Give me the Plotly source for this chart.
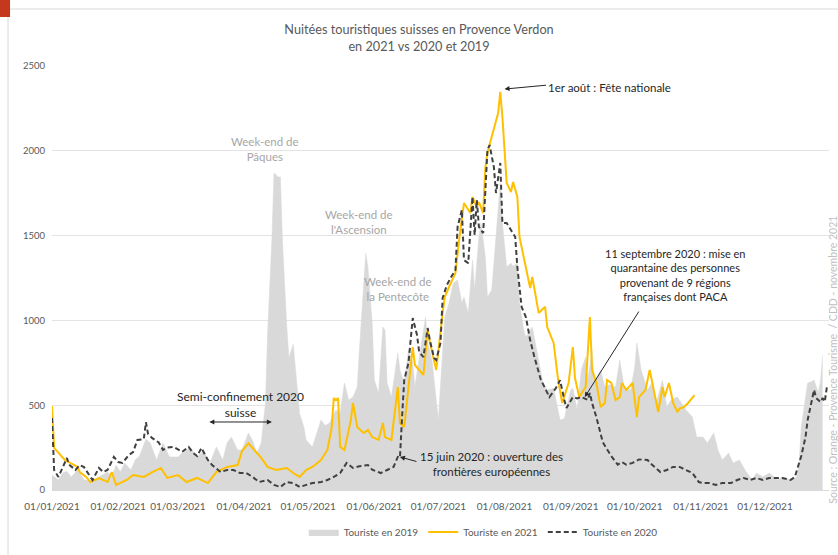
import pandas as pd
import plotly.graph_objects as go

BASE = pd.Timestamp("2021-01-01")

# ---- data (day offset from 01/01/2021, value) ----
days_2019 = [0,3,5,7,9,12,15,17,19,22,26,28,30,32,34,37,39,41,44,46,49,52,55,59,61,65,68,71,74,77,
             80,82,84,87,89,92,94,96,98,100,101,103,104,106,107,108,110,111,113,115,116,118,119,122,124,126,128,130,133,135,
             137,139,141,143,144,146,147,148,150,151,153,155,156,157,159,162,163,165,167,169,170,172,175,176,178,181,183,184,186,188,
             190,192,193,195,197,198,200,201,203,204,206,207,209,210,211,213,215,216,218,219,221,222,225,227,230,232,235,238,240,243,
             244,246,248,250,251,253,254,257,259,261,264,266,268,271,273,274,276,279,281,283,286,288,290,293,295,297,300,302,305,307,
             310,312,314,317,319,322,325,328,330,333,336,340,342,346,349,350,351,353,354,356,357,359,360,361]
vals_2019 = [88,59,100,110,77,118,59,59,50,77,106,77,147,106,159,118,177,200,300,277,177,277,195,195,218,248,195,230,159,254,
             177,277,312,236,236,336,290,218,277,513,926,1474,1869,1846,1846,1456,960,780,860,600,450,371,295,254,336,413,380,395,472,454,
             631,531,548,607,825,1220,1397,1315,984,648,572,961,943,631,548,808,708,631,825,749,607,778,1020,867,766,413,867,1020,1103,1220,
             1238,1103,1138,1044,1356,1179,1492,1574,1374,1138,1179,1338,1651,1810,1574,1315,1338,1320,1338,1103,943,902,961,825,631,590,600,413,420,590,
             600,472,708,784,648,825,631,708,607,620,607,766,607,590,725,867,708,590,631,513,648,489,531,548,513,472,430,312,312,277,
             336,236,177,218,159,177,110,59,100,77,100,59,77,59,77,159,371,548,631,640,648,572,640,796]

days_2021 = [0,1,6,12,13,16,18,22,26,28,30,35,38,43,47,51,54,59,63,68,73,77,82,87,89,92,96,98,101,105,
             110,113,116,119,122,126,129,131,132,133,134,135,137,140,141,143,146,148,150,153,155,156,159,162,163,165,169,170,174,176,
             177,180,183,184,186,189,191,193,196,197,199,200,202,203,204,207,209,210,211,213,215,216,218,219,222,224,225,228,231,232,
             235,237,239,242,244,245,247,250,251,252,253,255,257,259,260,262,264,266,267,269,272,274,275,278,280,282,284,286,287,289,
             291,293,294,296,298,301]
vals_2021 = [495,248,177,136,106,77,47,70,47,106,30,59,88,77,106,130,71,88,47,71,41,106,136,147,230,275,218,189,136,118,
             130,100,77,118,136,177,236,365,542,530,542,254,236,413,513,371,336,354,312,295,395,312,295,607,395,371,843,737,678,943,
             873,708,1044,1138,1197,1279,1503,1692,1633,1728,1668,1698,1633,1900,1990,2140,2223,2347,2200,1810,1757,1816,1728,1492,1315,1191,1256,1044,1080,961,
             867,660,513,631,843,660,548,607,814,1020,708,631,489,513,648,631,530,548,631,590,631,430,548,590,708,572,460,607,548,631,
             513,460,480,489,513,560]

days_2020 = [0,1,3,5,7,8,11,13,15,18,19,22,24,26,29,31,33,36,38,40,43,44,45,47,50,52,54,57,59,61,
             64,66,68,70,73,75,79,82,85,88,91,94,97,101,104,107,110,113,116,119,122,126,129,132,135,138,141,144,148,150,
             154,157,160,162,163,164,165,167,169,171,172,174,176,177,179,180,182,183,185,187,189,190,192,193,195,197,198,199,200,202,
             204,205,207,208,210,211,213,215,217,218,220,222,224,226,229,231,233,236,238,240,241,244,246,248,251,252,253,255,257,258,
             260,262,265,267,269,272,275,279,281,285,288,291,294,297,300,303,305,308,311,314,318,321,324,327,330,333,336,340,342,346,
             348,349,351,353,354,356,357,358,360,361,362,363]
vals_2020 = [424,118,77,130,189,150,118,147,135,77,59,130,106,118,195,165,160,206,224,295,300,400,330,306,280,236,250,254,240,225,
             254,220,200,248,177,147,106,118,118,100,100,77,47,59,30,18,47,41,18,30,41,47,59,77,100,159,130,140,147,120,
             100,118,136,195,190,430,648,749,1014,914,814,784,955,884,778,766,867,1132,1209,1256,1297,1551,1651,1356,1338,1728,1503,1710,1551,1515,
             2005,2034,1904,1751,1928,1574,1574,1533,1492,1315,1079,1020,884,784,650,600,548,600,648,531,483,548,540,548,531,572,513,430,336,283,
             240,200,150,165,150,160,180,177,150,106,118,136,136,118,100,47,41,41,30,41,41,59,71,59,71,59,71,71,71,59,
             77,118,200,312,413,531,590,542,519,542,520,607]

series_names = ["Touriste en 2019", "Touriste en 2021", "Touriste en 2020"]
month_ticks = ["2021-01-01","2021-02-01","2021-03-01","2021-04-01","2021-05-01","2021-06-01",
               "2021-07-01","2021-08-01","2021-09-01","2021-10-01","2021-11-01","2021-12-01"]
month_labels = ["01/01/2021","01/02/2021","01/03/2021","01/04/2021","01/05/2021","01/06/2021",
                "01/07/2021","01/08/2021","01/09/2021","01/10/2021","01/11/2021","01/12/2021"]
y_ticks = [0, 500, 1000, 1500, 2000, 2500]


def to_dates(days):
    return [BASE + pd.Timedelta(days=int(d)) for d in days]


FONT = "Lato, 'Open Sans', sans-serif"
GREY_TXT = "#595959"
DARK = "#262626"

fig = go.Figure()
fig.add_trace(go.Scatter(x=to_dates(days_2019), y=vals_2019, name=series_names[0],
                         mode="lines", fill="tozeroy", fillcolor="#D9D9D9",
                         line=dict(color="#D9D9D9", width=0.5)))
fig.add_trace(go.Scatter(x=to_dates(days_2021), y=vals_2021, name=series_names[1],
                         mode="lines", line=dict(color="#FFC000", width=2)))
fig.add_trace(go.Scatter(x=to_dates(days_2020), y=vals_2020, name=series_names[2],
                         mode="lines", line=dict(color="#404040", width=2, dash="5px,3px")))

fig.update_layout(
    width=838, height=555,
    margin=dict(l=52, r=9, t=66, b=65),
    paper_bgcolor="white", plot_bgcolor="white",
    font=dict(family=FONT, color=GREY_TXT),
    title=dict(text="Nuitées touristiques suisses en Provence Verdon<br>en 2021 vs 2020 et 2019",
               x=0.5, xanchor="center", y=1 - 34 / 555, yanchor="middle",
               font=dict(size=12.7, color=GREY_TXT, family=FONT)),
    showlegend=True,
    legend=dict(orientation="h", x=0.555, xanchor="center", y=-0.099, yanchor="middle",
                font=dict(size=10, color=GREY_TXT), itemwidth=30, traceorder="normal"),
    xaxis=dict(type="date", range=["2021-01-01", "2021-12-31"], tickvals=month_ticks,
               ticktext=month_labels, showgrid=False, ticks="", zeroline=False,
               showline=True, linecolor="#D9D9D9", tickfont=dict(size=10, color=GREY_TXT),
               ticklabelstandoff=7),
    yaxis=dict(range=[0, 2500], tickvals=y_ticks, showgrid=True, gridcolor="#E3E3E3",
               zeroline=False, showline=False, ticks="", tickfont=dict(size=9.5, color=GREY_TXT),
               ticklabelstandoff=6),
)

# chart border and slide corner
fig.add_shape(type="rect", xref="paper", yref="paper", x0=-0.0566, x1=1.02, y0=-0.2, y1=1.1344,
              line=dict(color="#D9D9D9", width=1), fillcolor="rgba(0,0,0,0)", layer="below")
fig.add_shape(type="rect", xref="paper", yref="paper", x0=-0.0669, x1=-0.054, y0=1.1156, y1=1.1557,
              line=dict(width=0), fillcolor="#C4391D")

ann = []
# grey holiday labels
for txt, x, y in [("Week-end de<br>Pâques", "2021-04-11", 2010),
                  ("Week-end de<br>l'Ascension", "2021-05-24 19:00", 1580),
                  ("Week-end de<br>la Pentecôte", "2021-06-12", 1185)]:
    ann.append(dict(text=txt, x=x, y=y, xref="x", yref="y", showarrow=False,
                    font=dict(size=11.5, color="#A6A6A6", family=FONT)))
# dark texts
ann.append(dict(text="1er août : Fête nationale", x="2021-08-20 12:00", y=2376, xref="x", yref="y",
                xanchor="left", showarrow=False, font=dict(size=11.5, color=DARK, family=FONT)))
ann.append(dict(text="11 septembre 2020 : mise en<br>quarantaine des personnes<br>provenant de 9 régions<br>françaises dont PACA",
                x="2021-10-20", y=1268, xref="x", yref="y", showarrow=False,
                font=dict(size=11, color=DARK, family=FONT)))
ann.append(dict(text="Semi-confinement 2020<br>suisse", x="2021-03-30 12:00", y=507, xref="x", yref="y",
                showarrow=False, font=dict(size=12, color=DARK, family=FONT)))
ann.append(dict(text="15 juin 2020 : ouverture des<br>frontières européennes", x="2021-07-26", y=153,
                xref="x", yref="y", showarrow=False, font=dict(size=11.5, color=DARK, family=FONT)))
ann.append(dict(text="Source : Orange - Provence Tourisme  / CDD - novembre 2021", x=1.005, y=0.307,
                xref="paper", yref="paper", xanchor="center", yanchor="middle", textangle=-90,
                showarrow=False, font=dict(size=10.5, color="#BFBFBF", family=FONT)))
# arrows
arrow_style = dict(showarrow=True, arrowhead=2, arrowsize=1, arrowwidth=1, arrowcolor=DARK, text="",
                   xref="x", yref="y")
ann.append(dict(x="2021-08-01", y=2364, ax=43, ay=-4, **arrow_style))
ann.append(dict(x="2021-09-07 14:00", y=548, ax=55, ay=-87, **arrow_style))
ann.append(dict(x="2021-06-13", y=195, ax=18, ay=5, **arrow_style))
ann.append(dict(x="2021-04-14", y=401, ax=-64, ay=0, arrowside="end+start", **arrow_style))
fig.update_layout(annotations=ann)

fig.write_html("out.html", config={"displayModeBar": False},
               post_script="document.body.style.margin='0';document.body.style.overflow='hidden';")
